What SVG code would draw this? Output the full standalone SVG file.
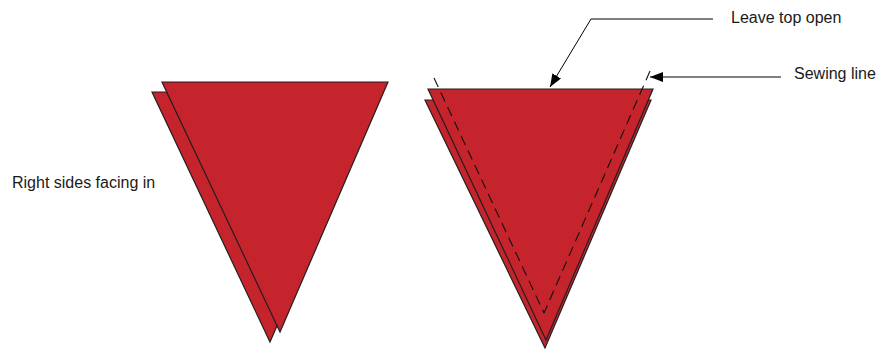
<svg xmlns="http://www.w3.org/2000/svg" width="877" height="349" viewBox="0 0 877 349">
  <style>
    .tri { fill: #c5242c; stroke: #231f20; stroke-width: 1.2; stroke-linejoin: miter; }
    .seam { fill: none; stroke: #111; stroke-width: 1.1; stroke-dasharray: 10 6; }
    .lead { fill: none; stroke: #000; stroke-width: 1; }
    .lbl { font-family: "Liberation Sans", Arial, Helvetica, sans-serif; font-size: 16px; fill: #1a1a1a; }
  </style>
  <defs>
    <marker id="arr" markerUnits="userSpaceOnUse" markerWidth="14" markerHeight="10" refX="13" refY="5" orient="auto">
      <path d="M0,0 L13,5 L0,10 z" fill="#000"/>
    </marker>
  </defs>
  <rect width="877" height="349" fill="#fff"/>

  <g id="left-pair">
    <polygon class="tri" points="152,92 378,92 270,342"/>
    <polygon class="tri" points="162,82 388,82 280,332"/>
  </g>

  <g id="right-pair">
    <polygon class="tri" points="425,100 651,100 545,348"/>
    <polygon class="tri" points="428,89 653,89 546,340"/>
    <line class="seam" x1="434" y1="78" x2="544" y2="313"/>
    <line class="seam" x1="650" y1="71" x2="544" y2="313"/>
  </g>

  <g id="label-right-sides">
    <text class="lbl" x="12" y="188">Right sides facing in</text>
  </g>
  <g id="label-leave-top">
    <text class="lbl" x="731" y="23">Leave top open</text>
  </g>
  <g id="label-sewing">
    <text class="lbl" x="794" y="79">Sewing line</text>
  </g>

  <g id="connectors">
    <polyline class="lead" points="713,19 591,19 550,87" marker-end="url(#arr)"/>
    <line class="lead" x1="781" y1="77" x2="650" y2="77" marker-end="url(#arr)"/>
  </g>
</svg>
